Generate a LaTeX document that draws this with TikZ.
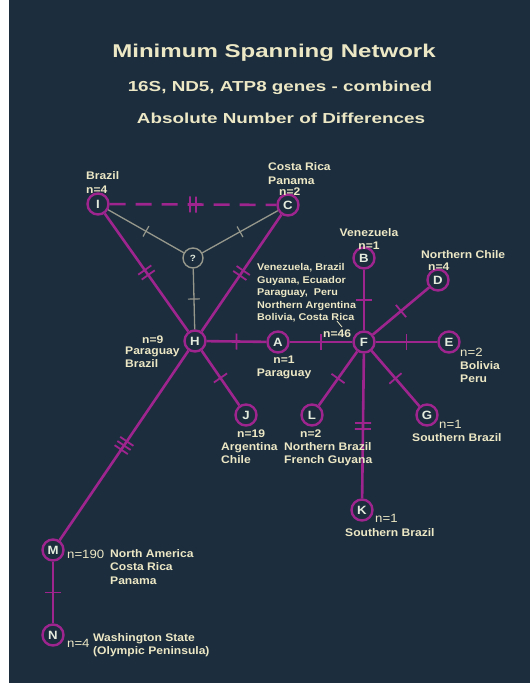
\documentclass[tikz,border=0pt]{standalone}
\usepackage{fontspec}
\setmainfont{Liberation Sans}
\newfontfamily\titlefont{Liberation Sans}[FakeStretch=1.3]
\newfontfamily\labfont{Liberation Sans}[FakeStretch=1.1]
\usetikzlibrary{decorations.markings}
\definecolor{bg}{RGB}{28,45,62}
\definecolor{hapline}{RGB}{158,36,142}
\definecolor{grayline}{RGB}{150,152,140}
\definecolor{cream}{RGB}{236,231,196}
\definecolor{letter}{RGB}{228,236,222}
\tikzset{
  hap/.style={circle, draw=hapline, line width=2.4pt, minimum size=21pt, inner sep=0pt,
    fill=bg, text=letter, font=\labfont\bfseries\fontsize{12}{12}\selectfont},
  unk/.style={circle, draw=grayline, line width=1.4pt, minimum size=20pt, inner sep=0pt,
    fill=bg, text=letter, font=\labfont\bfseries\fontsize{9}{9}\selectfont},
  link/.style={draw=hapline, line width=2.6pt},
  glink/.style={draw=grayline, line width=1.3pt},
  gap/.style={dash pattern=on 16pt off 10pt},
  tick/.style={draw=hapline, line width=1.8pt, solid},
  gtick/.style={draw=grayline, line width=1.2pt, solid},
  one/.style={postaction={decorate, decoration={markings,
    mark=at position 0.5 with {\draw[tick] (0,-8pt) -- (0,8pt);}}}},
  gone/.style={postaction={decorate, decoration={markings,
    mark=at position 0.5 with {\draw[gtick] (0,-6pt) -- (0,6pt);}}}},
  two/.style={postaction={decorate, decoration={markings,
    mark=at position 0.5 with {\draw[tick] (-3pt,-8pt) -- (-3pt,8pt) (3pt,-8pt) -- (3pt,8pt);}}}},
  three/.style={postaction={decorate, decoration={markings,
    mark=at position 0.5 with {\draw[tick] (-5pt,-8pt) -- (-5pt,8pt) (0,-8pt) -- (0,8pt) (5pt,-8pt) -- (5pt,8pt);}}}},
  ttl/.style={text=cream, inner sep=0pt, anchor=base},
  lab/.style={text=cream, inner sep=0pt, align=left, anchor=base west,
    font=\labfont\bfseries\fontsize{11}{13.5}\selectfont},
  small/.style={lab, font=\labfont\bfseries\fontsize{9.8}{12.5}\selectfont},
  count/.style={lab, font=\labfont\fontsize{12}{13.5}\selectfont},
}
\begin{document}
\begin{tikzpicture}[x=1pt, y=-1pt]
\useasboundingbox (0,0) rectangle (530,683);
\fill[white] (0,0) rectangle (9,683);
\fill[bg] (9,0) rectangle (530,683);

% titles
\node[ttl, font=\titlefont\bfseries\fontsize{18.5}{20}\selectfont] (title) at (274,57) {Minimum Spanning Network};
\node[ttl, font=\titlefont\bfseries\fontsize{14.5}{16}\selectfont] (genes) at (280,91) {16S, ND5, ATP8 genes - combined};
\node[ttl, font=\titlefont\bfseries\fontsize{14.5}{16}\selectfont] (diffs) at (281,123) {Absolute Number of Differences};

% haplotypes
\node[hap] (I) at (98,204) {I};
\node[hap] (C) at (288,205) {C};
\node[unk] (Q) at (193,258) {?};
\node[hap] (H) at (195,341) {H};
\node[hap] (A) at (278,342) {A};
\node[hap] (F) at (364,342) {F};
\node[hap] (B) at (364,258) {B};
\node[hap] (D) at (438,280) {D};
\node[hap] (E) at (449,342) {E};
\node[hap] (G) at (427,415) {G};
\node[hap] (L) at (312,415) {L};
\node[hap] (J) at (246,415) {J};
\node[hap] (K) at (362,510) {K};
\node[hap] (M) at (53,550) {M};
\node[hap] (N) at (53,635) {N};

% links
\draw[link, gap, two] (I) -- (C);
\draw[glink, gone] (Q) -- (I);
\draw[glink, gone] (Q) -- (C);
\draw[glink, gone] (Q) -- (H);
\draw[link, two] (I) -- (H);
\draw[link, two] (C) -- (H);
\draw[link, one] (H) -- (A);
\draw[link, one] (A) -- (F);
\draw[link, one] (F) -- (B);
\draw[link, one] (F) -- (D);
\draw[link, one] (F) -- (E);
\draw[link, one] (F) -- (G);
\draw[link, one] (F) -- (L);
\draw[link, two] (F) -- (K);
\draw[link, one] (H) -- (J);
\draw[link, three] (H) -- (M);
\draw[link, one] (M) -- (N);

% labels (base = last line)
\node[lab] (labI) at (86,193) {Brazil\\n=4};
\node[lab] (labC) at (268,184) {Costa Rica\\Panama};
\node[lab] (nC) at (279,195) {n=2};
\node[lab, align=center, anchor=base] (labB) at (369,249.5) {Venezuela\\n=1};
\node[lab] (labD) at (421,258) {Northern Chile};
\node[lab] (nD) at (428,270) {n=4};
\node[small] (labF) at (257,320.5) {Venezuela, Brazil\\Guyana, Ecuador\\Paraguay,\ \ Peru\\Northern Argentina\\Bolivia, Costa Rica};
\coordinate (leadA) at (337,321);
\coordinate (leadB) at (342,327);
\draw[cream, line width=0.8pt] (leadA) -- (leadB);
\node[lab] (nF) at (323,337) {n=46};
\node[lab] (nH) at (142,343) {n=9};
\node[lab] (labH) at (125,367.5) {Paraguay\\Brazil};
\node[lab, align=center, anchor=base] (labA) at (284,376.5) {n=1\\Paraguay};
\node[count] (nE) at (460,356) {n=2};
\node[lab] (labE) at (460,382.5) {Bolivia\\Peru};
\node[count] (nG) at (439,428) {n=1};
\node[lab] (labG) at (412,441) {Southern Brazil};
\node[lab] (nJ) at (237,437) {n=19};
\node[lab] (labJ) at (221,463.5) {Argentina\\Chile};
\node[lab] (nL) at (300,437) {n=2};
\node[lab] (labL) at (284,463.5) {Northern Brazil\\French Guyana};
\node[count] (nK) at (375,522) {n=1};
\node[lab] (labK) at (345,536) {Southern Brazil};
\node[count] (nM) at (67,558) {n=190};
\node[lab] (labM) at (110,584) {North America\\Costa Rica\\Panama};
\node[count] (nN) at (67,647) {n=4};
\node[lab] (labN) at (93,654.5) {Washington State\\(Olympic Peninsula)};
\end{tikzpicture}
\end{document}
